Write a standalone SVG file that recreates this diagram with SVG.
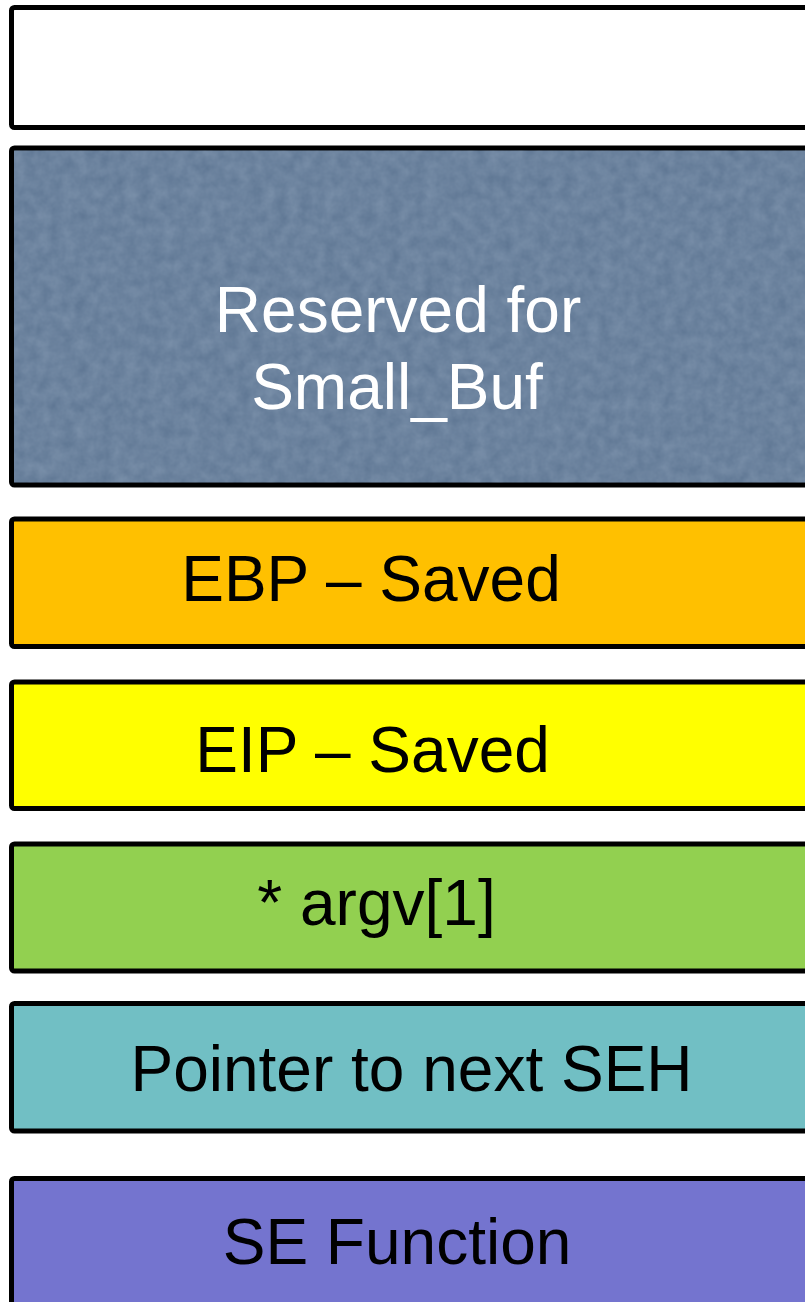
<svg xmlns="http://www.w3.org/2000/svg" width="805" height="1302" viewBox="0 0 805 1302">
  <style>
    .box { stroke: #000; stroke-width: 5; }
    .lbl { font-family: "Liberation Sans", Arial, sans-serif; font-size: 64px; text-anchor: middle; fill: #000; }
    .white { fill: #fff; }
  </style>
  <defs>
    <filter id="grain" x="0" y="0" width="100%" height="100%">
      <feTurbulence type="fractalNoise" baseFrequency="0.08" numOctaves="3" seed="4" result="n"/>
      <feColorMatrix in="n" type="matrix" values="0 0 0 0 0.45  0 0 0 0 0.55  0 0 0 0 0.68  0 0 0 0.35 0" result="c"/>
      <feComposite in="c" in2="SourceGraphic" operator="in"/>
    </filter>
  </defs>
  <rect width="805" height="1302" fill="#fff"/>
  <g id="box-top">
    <rect class="box" x="11.5" y="7.5" width="810" height="120" rx="3" fill="#fff"/>
  </g>
  <g id="small-buf">
    <rect class="box" x="11.5" y="148" width="810" height="337" rx="3" fill="#5d7592"/>
    <rect x="14" y="150.5" width="805" height="332" fill="#5d7592" filter="url(#grain)"/>
    <text class="lbl white" x="398" y="332">Reserved for</text>
    <text class="lbl white" x="397" y="409">Small_Buf</text>
  </g>
  <g id="ebp">
    <rect class="box" x="11.5" y="519" width="810" height="127.5" rx="3" fill="#ffc000"/>
    <text class="lbl" x="371" y="601">EBP – Saved</text>
  </g>
  <g id="eip">
    <rect class="box" x="11.5" y="682" width="810" height="126.5" rx="3" fill="#ffff00"/>
    <text class="lbl" x="372.5" y="772">EIP – Saved</text>
  </g>
  <g id="argv">
    <rect class="box" x="11.5" y="844" width="810" height="127" rx="3" fill="#92d050"/>
    <text class="lbl" x="376.5" y="925">* argv[1]</text>
  </g>
  <g id="next-seh">
    <rect class="box" x="11.5" y="1003.5" width="810" height="127.5" rx="3" fill="#71bfc4"/>
    <text class="lbl" x="411.5" y="1091">Pointer to next SEH</text>
  </g>
  <g id="se-function">
    <rect class="box" x="11.5" y="1178.5" width="810" height="140" rx="3" fill="#7474cf"/>
    <text class="lbl" x="397" y="1264">SE Function</text>
  </g>
  <g id="connectors"></g>
</svg>
